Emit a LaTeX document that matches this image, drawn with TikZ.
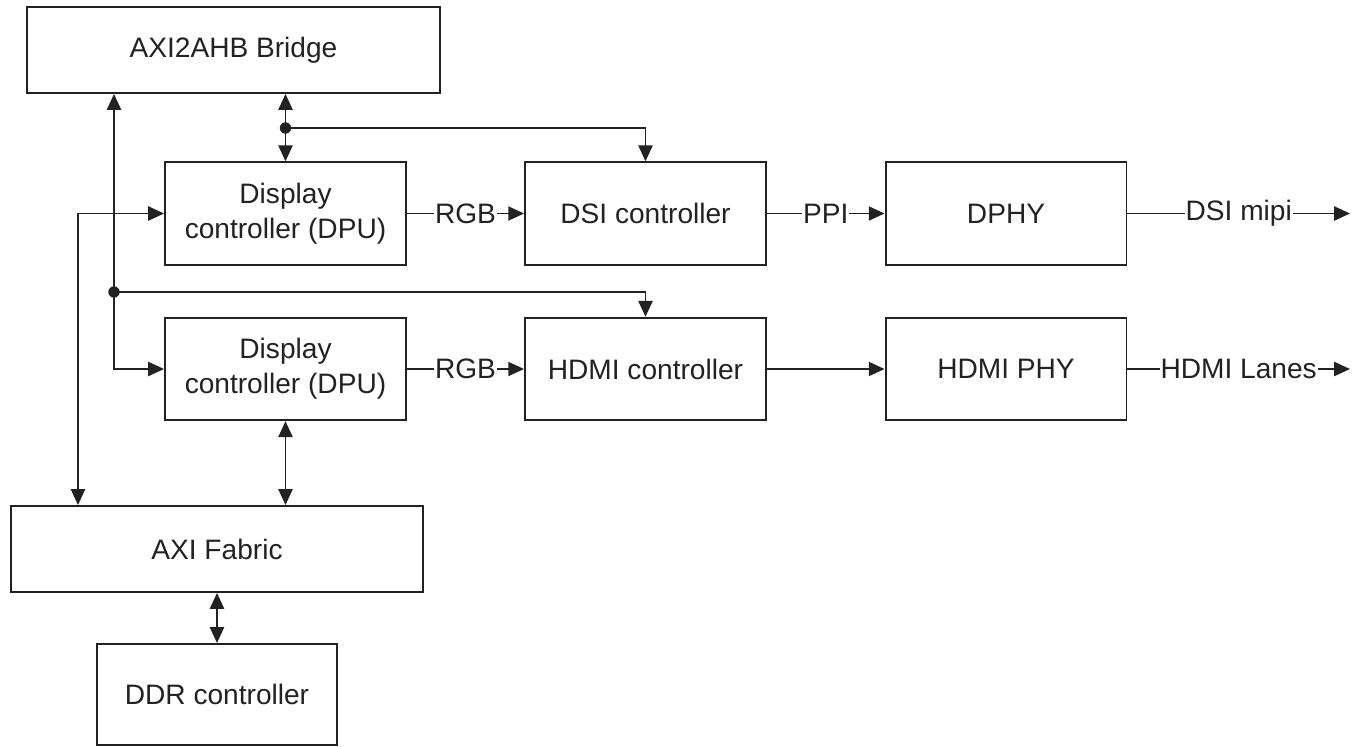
\documentclass[tikz,border=0pt]{standalone}
\usepackage{fontspec}
\setmainfont{Liberation Sans}
\usetikzlibrary{arrows.meta}
\definecolor{ink}{HTML}{222222}
\begin{document}
\begin{tikzpicture}[x=0.02cm, y=-0.02cm,
  block/.style={draw=ink, line width=1.1pt, fill=white, inner sep=0pt,
    align=center, text=ink, font=\fontsize{16}{20}\selectfont},
  wide/.style={block, minimum width=8.25cm, minimum height=1.72cm},
  unit/.style={block, minimum width=4.82cm, minimum height=2.05cm},
  tip/.tip={Triangle[length=9pt, width=8pt]},
  link/.style={draw=ink, line width=1.1pt, -tip},
  dlink/.style={draw=ink, line width=1.1pt, tip-tip},
  lbl/.style={fill=white, inner xsep=0.5pt, inner ysep=2pt, text=ink,
    font=\fontsize{16}{20}\selectfont},
  junction/.style={circle, fill=ink, inner sep=0pt, minimum size=6.5pt}]
\useasboundingbox (0,0) rectangle (1359,747);

% blocks
\node[wide] (br) at (233.5,50) {AXI2AHB Bridge};
\node[unit] (dpu1) at (285.5,213.5) {Display\\controller (DPU)};
\node[unit] (dsi) at (645.5,213.5) {DSI controller};
\node[unit] (dphy) at (1006,213.5) {DPHY};
\node[unit] (dpu2) at (285.5,369) {Display\\controller (DPU)};
\node[unit] (hdmic) at (645.5,369) {HDMI controller};
\node[unit] (hdmiphy) at (1006,369) {HDMI PHY};
\node[wide, minimum width=8.24cm] (fab) at (217,549) {AXI Fabric};
\node[unit, minimum width=4.8cm, minimum height=2.02cm] (ddr) at (217,694.5) {DDR controller};

% helper points
\coordinate (j1) at (285.5,128);
\coordinate (j2) at (114,292);
\coordinate (lb) at (78,0);
\coordinate (out1) at (1350,213.5);
\coordinate (out2) at (1350,369);

% register bus from the bridge
\draw[dlink] (br.south -| j2) |- (dpu2.west);
\draw[link] (j2) -| (hdmic.north);
\draw[dlink] (br.south -| dpu1.north) -- (dpu1.north);
\draw[link] (j1) -| (dsi.north);
\node[junction] at (j1) {};
\node[junction] at (j2) {};

% memory paths
\draw[dlink] (dpu1.west) -| (fab.north -| lb);
\draw[dlink] (dpu2.south) -- (dpu2.south |- fab.north);
\draw[dlink] (fab.south) -- (ddr.north);

% pixel pipelines
\draw[link] (dpu1.east) -- node[lbl] {RGB} (dsi.west);
\draw[link] (dsi.east) -- node[lbl] {PPI} (dphy.west);
\draw[link] (dphy.east) -- node[lbl] {DSI mipi} (out1);
\draw[link] (dpu2.east) -- node[lbl] {RGB} (hdmic.west);
\draw[link] (hdmic.east) -- (hdmiphy.west);
\draw[link] (hdmiphy.east) -- node[lbl] {HDMI Lanes} (out2);
\end{tikzpicture}
\end{document}
